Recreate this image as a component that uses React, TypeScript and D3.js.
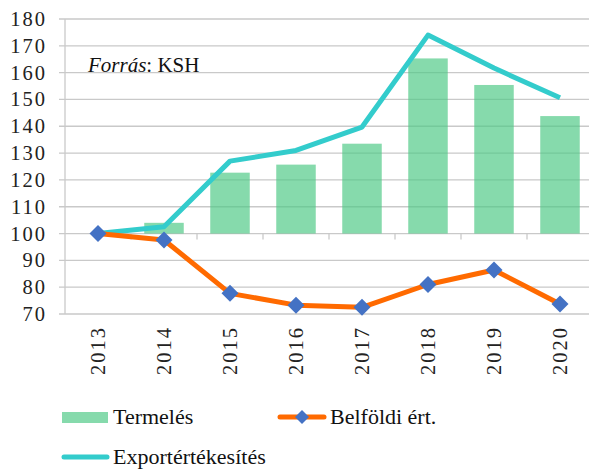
import * as d3 from 'd3'

const years = ['2013', '2014', '2015', '2016', '2017', '2018', '2019', '2020']
const termeles = [100, 104, 122.7, 125.7, 133.5, 165.3, 155.4, 143.8]
const belfoldi = [100, 97.6, 77.7, 73.3, 72.5, 81, 86.4, 73.7]
const export_ = [100, 102.5, 127, 131, 139.7, 174, 161.7, 150.6]
const yTicks = [70, 80, 90, 100, 110, 120, 130, 140, 150, 160, 170, 180]

const W = 589
const H = 469
const plot = { left: 65, right: 593, top: 19, bottom: 314 }
const GRID = '#c9c9c9'
const BAR = '#4cc985'
const ORANGE = '#ff6a00'
const TEAL = '#33cccc'
const BLUE = '#4472c4'
const SERIF = "'Liberation Serif', 'Times New Roman', serif"

export default function App() {
  const x = d3.scaleBand<string>().domain(years).range([plot.left, plot.right])
  const y = d3.scaleLinear().domain([70, 180]).range([plot.bottom, plot.top])
  const cx = (yr: string) => (x(yr) ?? 0) + x.bandwidth() / 2
  const barW = 39.5

  const lineGen = d3
    .line<number>()
    .x((_, i) => cx(years[i]))
    .y((d) => y(d))

  const diamond = (px: number, py: number, r = 8.5) =>
    `M${px},${py - r}L${px + r},${py}L${px},${py + r}L${px - r},${py}Z`

  const axisText = { fontFamily: SERIF, fontSize: 20.5, letterSpacing: 2 }

  return (
    <svg
      width={W}
      height={H}
      style={{ position: 'absolute', left: 0, top: 0, background: '#fff' }}
    >
      {/* grid */}
      {yTicks.map((t) => (
        <line key={t} x1={plot.left - 6} x2={W} y1={y(t)} y2={y(t)} stroke={GRID} strokeWidth={1.3} />
      ))}
      <line x1={plot.left} x2={plot.left} y1={plot.top} y2={plot.bottom} stroke={GRID} strokeWidth={1.3} />

      {/* bars from base 100 */}
      {termeles.map((v, i) => (
        <rect
          key={years[i]}
          x={cx(years[i]) - barW / 2}
          y={Math.min(y(v), y(100))}
          width={barW}
          height={Math.abs(y(100) - y(v))}
          fill={BAR}
          fillOpacity={0.68}
        />
      ))}

      {/* category ticks at 100 */}
      {years.slice(1).map((yr) => (
        <line key={yr} x1={x(yr)} x2={x(yr)} y1={y(100)} y2={y(100) + 6} stroke={GRID} strokeWidth={1.3} />
      ))}

      {/* y labels */}
      {yTicks.map((t) => (
        <text key={t} x={47} y={y(t)} dy="0.34em" textAnchor="end" style={axisText} fill="#222">
          {t}
        </text>
      ))}

      {/* x labels */}
      {years.map((yr) => (
        <text
          key={yr}
          transform={`translate(${cx(yr)},326) rotate(-90)`}
          textAnchor="end"
          dy="0.34em"
          style={axisText}
          fill="#222"
        >
          {yr}
        </text>
      ))}

      {/* export line */}
      <path d={lineGen(export_) ?? ''} fill="none" stroke={TEAL} strokeWidth={5} strokeLinejoin="round" />

      {/* belföldi line + markers */}
      <path d={lineGen(belfoldi) ?? ''} fill="none" stroke={ORANGE} strokeWidth={5} strokeLinejoin="round" />
      {belfoldi.map((v, i) => (
        <path key={years[i]} d={diamond(cx(years[i]), y(v))} fill={BLUE} />
      ))}

      {/* source */}
      <text x={88} y={72} style={{ fontFamily: SERIF, fontSize: 21 }} fill="#111">
        <tspan fontStyle="italic">Forrás</tspan>: KSH
      </text>

      {/* legend */}
      <g style={{ fontFamily: SERIF, fontSize: 22 }} fill="#111">
        <rect x={62} y={412} width={46} height={11} fill={BAR} fillOpacity={0.68} />
        <text x={113} y={417} dy="0.33em">Termelés</text>

        <line x1={280} x2={324} y1={417} y2={417} stroke={ORANGE} strokeWidth={5} strokeLinecap="round" />
        <path d={diamond(302, 417, 7)} fill={BLUE} />
        <text x={330} y={417} dy="0.33em">Belföldi ért.</text>

        <line x1={64} x2={107} y1={457} y2={457} stroke={TEAL} strokeWidth={5} strokeLinecap="round" />
        <text x={113} y={457} dy="0.33em">Exportértékesítés</text>
      </g>
    </svg>
  )
}
